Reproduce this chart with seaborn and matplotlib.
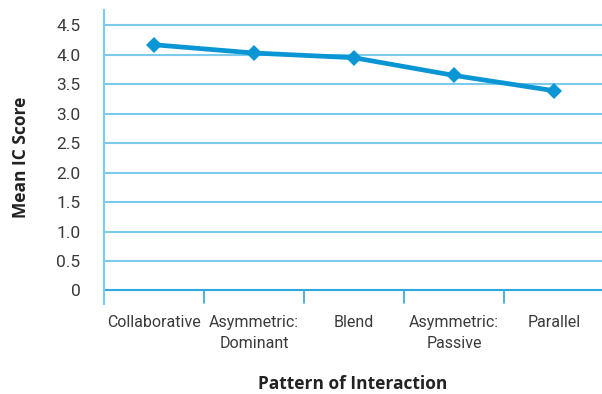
import matplotlib
matplotlib.use("Agg")
import matplotlib.pyplot as plt
import seaborn as sns
import pandas as pd
from matplotlib.ticker import FixedLocator

patterns = ["Collaborative", "Asymmetric:\nDominant", "Blend", "Asymmetric:\nPassive", "Parallel"]
mean_ic = [4.17, 4.03, 3.95, 3.65, 3.39]
y_ticks = [0, 0.5, 1.0, 1.5, 2.0, 2.5, 3.0, 3.5, 4.0, 4.5]
y_tick_labels = ["0", "0.5", "1.0", "1.5", "2.0", "2.5", "3.0", "3.5", "4.0", "4.5"]

df = pd.DataFrame({"pattern": patterns, "score": mean_ic})
df["pos"] = range(len(patterns))

sns.set_theme(style="white")
plt.rcParams["font.family"] = ["Roboto", "DejaVu Sans"]

line_c = "#0a96d4"
grid_c = "#7dcbec"
text_c = "#3a3a3a"

fig = plt.figure(figsize=(6.02, 3.94), dpi=100)
ax = fig.add_axes([104 / 602, (394 - 304) / 394, 1 - 104 / 602, (304 - 10) / 394])

for v in y_ticks[1:]:
    ax.axhline(v, color=grid_c, lw=1.5, zorder=1)
ax.axhline(0, color="#2ea7de", lw=1.5, zorder=1)

sns.lineplot(data=df, x="pos", y="score", ax=ax, color=line_c, lw=3.4,
             marker="D", markersize=8.5, markeredgewidth=0, zorder=3)

ax.set_xlim(-0.5, 4.48)
ax.set_ylim(-0.23, 4.76)

for s in ["top", "right", "bottom"]:
    ax.spines[s].set_visible(False)
ax.spines["left"].set_color(grid_c)
ax.spines["left"].set_linewidth(1.5)

ax.set_yticks(y_ticks)
ax.set_yticklabels(y_tick_labels)
ax.tick_params(axis="y", length=0, pad=17, labelsize=12.5, labelcolor=text_c)

ax.set_xticks(range(len(patterns)))
ax.set_xticklabels(patterns, linespacing=1.5)
ax.tick_params(axis="x", which="major", length=0, pad=8, labelsize=11.5, labelcolor=text_c)
ax.xaxis.set_minor_locator(FixedLocator([0.5, 1.5, 2.5, 3.5]))

# boundary ticks hanging below the zero line
for b in [0.5, 1.5, 2.5, 3.5]:
    ax.plot([b, b], [0, -0.21], color="#2ea7de", lw=1.2, clip_on=False, zorder=2)

ax.set_xlabel("Pattern of Interaction", fontsize=12.5, fontweight="bold",
              color="#222222", labelpad=17, family=["Open Sans", "DejaVu Sans"])
ax.set_ylabel("Mean IC Score", fontsize=12.5, fontweight="bold",
              color="#222222", labelpad=19, family=["Open Sans", "DejaVu Sans"])
ax.grid(False)

fig.savefig("out.png", dpi=100)
